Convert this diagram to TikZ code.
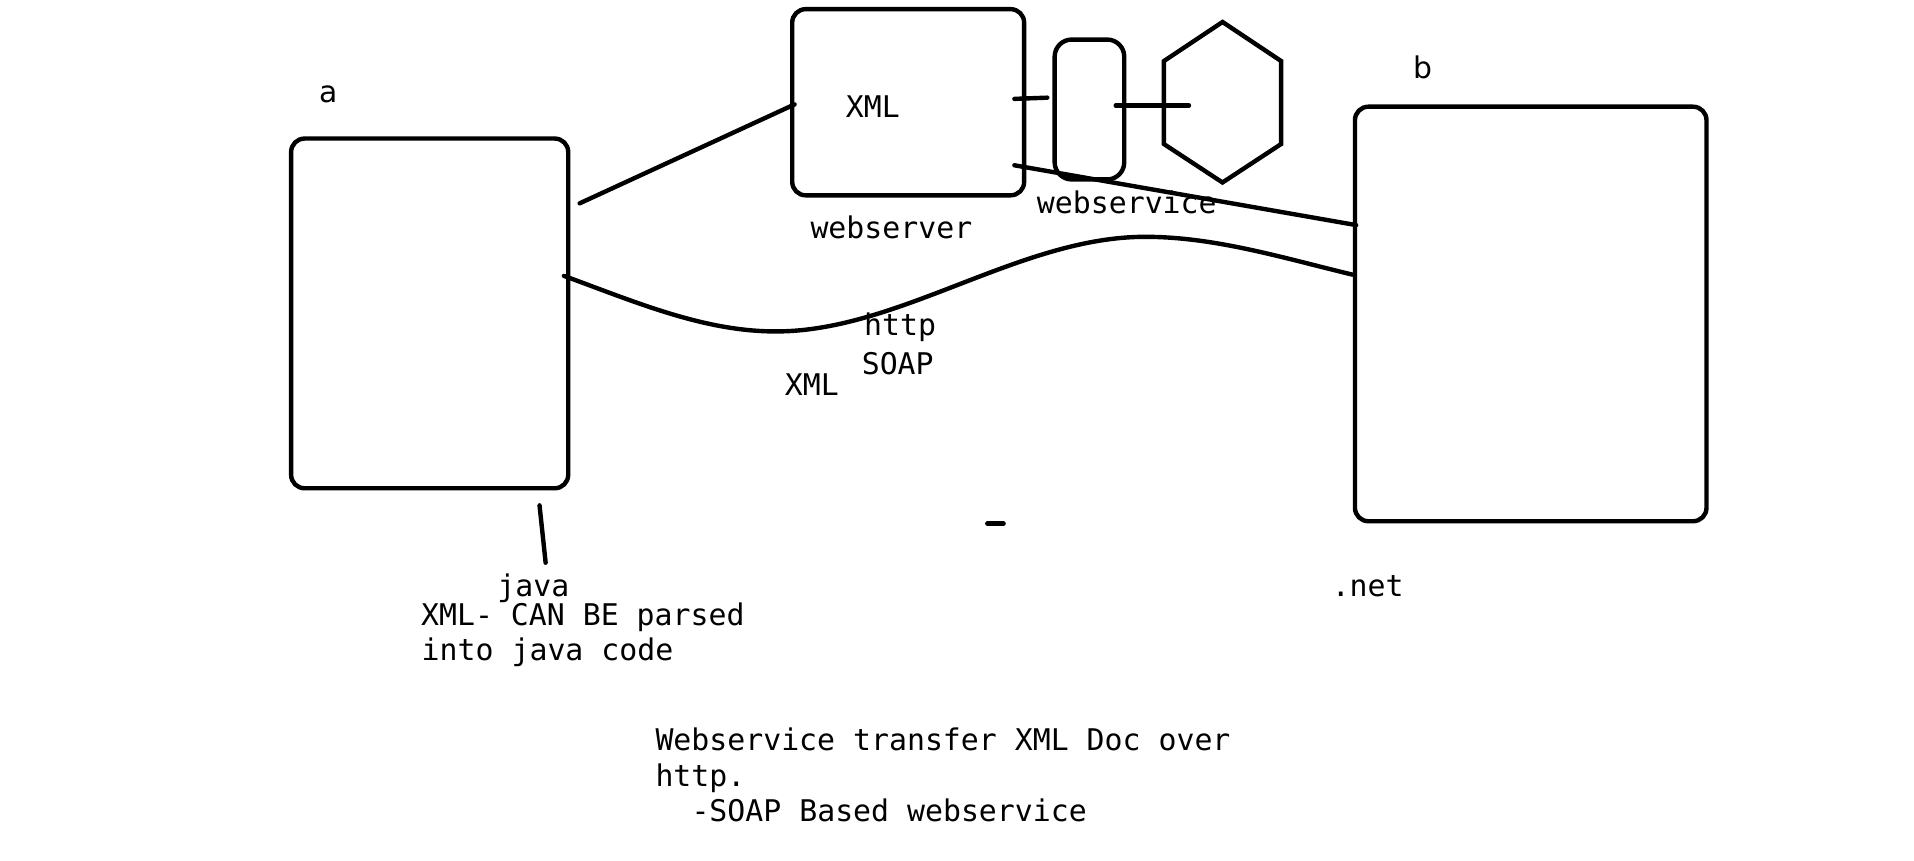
\documentclass[tikz,border=0pt]{standalone}
\usepackage{fontspec}
\usetikzlibrary{calc}
\newfontfamily\monofont{DejaVu Sans Mono}
\newfontfamily\labfont{DejaVu Sans}
\begin{document}
\begin{tikzpicture}[x=1pt,y=-1pt,
  box/.style={draw, line width=3.6pt, rounded corners=11pt, inner sep=0pt, outer sep=0pt},
  wire/.style={line width=3.6pt, line cap=round, line join=round},
  txt/.style={anchor=base west, inner sep=0pt, outer sep=0pt, font=\monofont\fontsize{24.45pt}{29pt}\selectfont},
  lbl/.style={anchor=base west, inner sep=0pt, outer sep=0pt, font=\labfont\fontsize{24.45pt}{29pt}\selectfont}]
\useasboundingbox (0,0) rectangle (1568,705);

% boxes
\node[box, minimum width=227pt, minimum height=286.5pt] (a) at (352,256.75) {};
\node[box, minimum width=190pt, minimum height=152.5pt] (ws) at (744,83.75) {};
\node[box, rounded corners=14pt, minimum width=57pt, minimum height=114.6pt] (svc) at (892.5,89.7) {};
\node[box, minimum width=288pt, minimum height=339.6pt] (b) at (1254,257.2) {};
\node[inner sep=0pt, outer sep=0pt, minimum width=96pt, minimum height=131.5pt] (hex) at (1001.5,83.75) {};
\draw[wire, line join=miter] (hex.north) -- ([yshift=-32pt]hex.north east) -- ([yshift=31.5pt]hex.south east)
  -- (hex.south) -- ([yshift=31.5pt]hex.south west) -- ([yshift=-32pt]hex.north west) -- cycle;

% labels
\node[lbl] (la) at (262,84) {a};
\node[lbl] (lb) at (1158,64) {b};
\node[txt] (xmlin) at (693,96.2) {XML};
\node[txt] (lws) at (664,195.3) {webserver};
\node[txt] (lsvc) at (849.5,174.6) {webservice};
\node[txt] (lhttp) at (708,275) {http};
\node[txt] (lsoap) at (706,306.4) {SOAP};
\node[txt] (lxml) at (643,323.6) {XML};
\node[txt] (ljava) at (407.5,489) {java};
\node[txt] (lnet) at (1091,488.8) {.net};
\node[txt] (p1) at (345,512.6) {XML- CAN BE parsed};
\node[txt] (p2) at (345.5,540.7) {into java code};
\node[txt] (n1) at (537,615) {Webservice transfer XML Doc over};
\node[txt] (n2) at (537,644) {http.};
\node[txt] (n3) at (566.5,673) {-SOAP Based webservice};

% connectors
\draw[wire] ([xshift=9.3pt,yshift=90.15pt]a.east) -- ([xshift=2pt,yshift=-1.75pt]ws.west);
\draw[wire] ([xshift=-8pt,yshift=2.75pt]ws.east) -- ([xshift=-6pt,yshift=9.7pt]svc.west);
\draw[wire] ([xshift=-7pt,yshift=3.2pt]svc.east) -- ([xshift=20.5pt,yshift=-2.75pt]hex.west);
\draw[wire] ([xshift=-8pt,yshift=-51.65pt]ws.east) -- ([xshift=1pt,yshift=72.8pt]b.west);
\draw[wire] ([xshift=-3.5pt,yshift=30.75pt]a.east)
  .. controls (522,248) and (578,272) .. (637,271.5)
  .. controls (737,271) and (836,194) .. (938,194)
  .. controls (995,194) and (1050,211) .. ([xshift=-2pt,yshift=32.2pt]b.west);
\draw[wire] ([xshift=90pt,yshift=-14pt]a.south) -- ([xshift=95pt,yshift=-61pt]a.south);
\coordinate (dash) at (815.5,429);
\draw[wire, line width=4pt] ([xshift=-6.5pt]dash) -- ([xshift=6.5pt]dash);
\end{tikzpicture}
\end{document}
